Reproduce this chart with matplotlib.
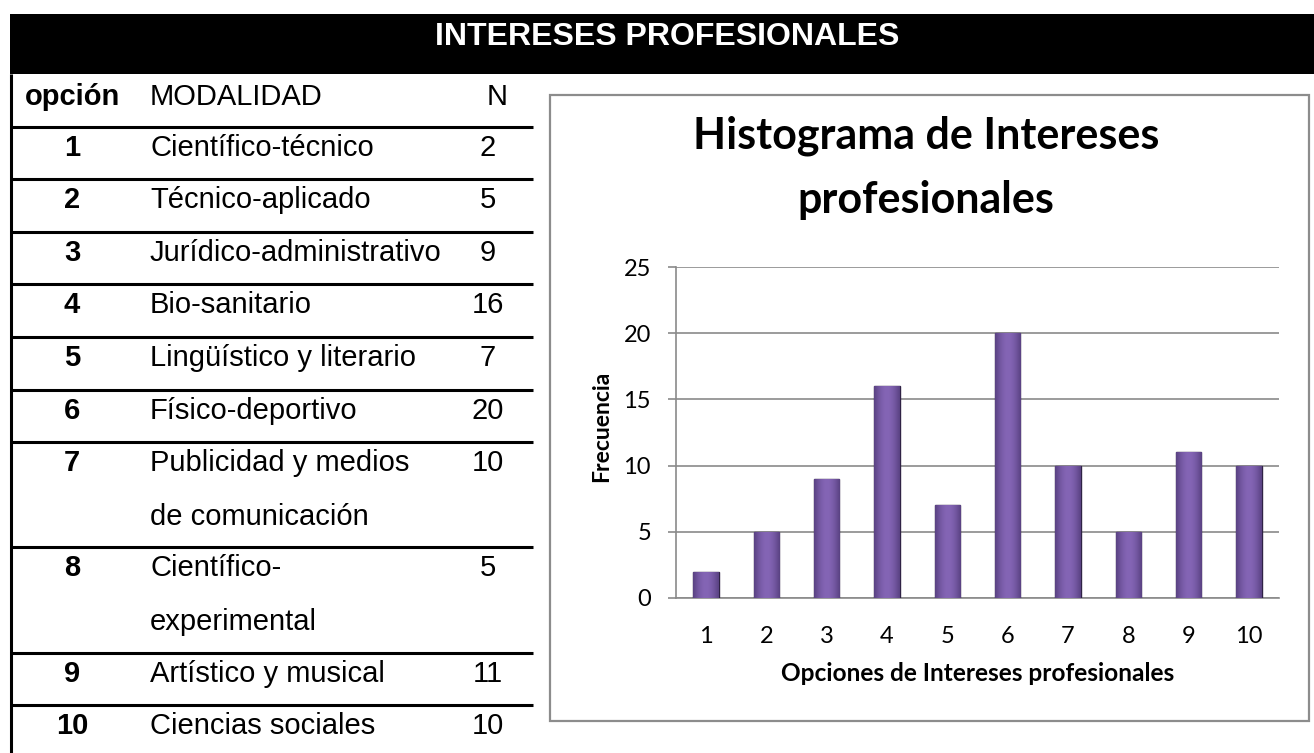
# Tabla de intereses profesionales + histograma (estilo Excel)
import matplotlib.pyplot as plt
import numpy as np
from matplotlib.patches import Rectangle
from matplotlib.colors import LinearSegmentedColormap

# datos
opciones = [1, 2, 3, 4, 5, 6, 7, 8, 9, 10]
modalidades = ['Científico-técnico', 'Técnico-aplicado', 'Jurídico-administrativo',
               'Bio-sanitario', 'Lingüístico y literario', 'Físico-deportivo',
               'Publicidad y medios\nde comunicación', 'Científico-\nexperimental',
               'Artístico y musical', 'Ciencias sociales']
frecuencias = [2, 5, 9, 16, 7, 20, 10, 5, 11, 10]
yticks = [0, 5, 10, 15, 20, 25]

titulo_tabla = 'INTERESES PROFESIONALES'
titulo_graf = 'Histograma de Intereses\nprofesionales'
etiqueta_x = 'Opciones de Intereses profesionales'
etiqueta_y = 'Frecuencia'

W, H = 1314, 753
fig = plt.figure(figsize=(W / 100, H / 100), dpi=100)

# fondo en coordenadas de pixel
bg = fig.add_axes([0, 0, 1, 1])
bg.set_xlim(0, W)
bg.set_ylim(H, 0)
bg.axis('off')

tabla_font = 'Liberation Sans'
graf_font = 'Lato'
fs_tabla = 21

# barra negra del titulo
bg.add_patch(Rectangle((10, 14), W - 10, 60, facecolor='black', edgecolor='none'))
bg.text(667, 45, titulo_tabla, color='white', fontsize=23, fontweight='bold',
        family=tabla_font, ha='center', va='baseline')

# tabla
lw = 2.2
x0, x1 = 11, 533
fila_h = 52.6
y = 74
bg.text(72, y + 31, 'opción', fontsize=fs_tabla, fontweight='bold', family=tabla_font,
        ha='center', va='baseline')
bg.text(150, y + 31, 'MODALIDAD', fontsize=fs_tabla, family=tabla_font, va='baseline')
bg.text(497, y + 31, 'N', fontsize=fs_tabla, family=tabla_font, ha='center', va='baseline')
y += fila_h
for op, mod, n in zip(opciones, modalidades, frecuencias):
    bg.plot([x0, x1], [y, y], color='black', lw=lw, solid_capstyle='butt')
    lineas = mod.split('\n')
    bg.text(72, y + 29, str(op), fontsize=fs_tabla, fontweight='bold', family=tabla_font,
            ha='center', va='baseline')
    for i, l in enumerate(lineas):
        bg.text(150, y + 29 + i * 54, l, fontsize=fs_tabla, family=tabla_font, va='baseline')
    bg.text(488, y + 29, str(n), fontsize=fs_tabla, family=tabla_font, ha='center', va='baseline')
    y += fila_h * len(lineas)
bg.plot([x0, x0], [74, H], color='black', lw=lw, solid_capstyle='butt')

# marco del grafico
bg.add_patch(Rectangle((550, 95), 759, 626, facecolor='white', edgecolor='#8c8c8c', lw=1.6))
bg.text(926, 168, titulo_graf, fontsize=31, fontweight='bold', family=graf_font,
        ha='center', va='center', linespacing=1.72)

# histograma
left, right, top, bottom = 676, 1279, 267, 598
ax = fig.add_axes([left / W, 1 - bottom / H, (right - left) / W, (bottom - top) / H])
ax.set_facecolor('none')
bars = ax.bar(opciones, frecuencias, width=0.42, color='#7458a0', edgecolor='#2f2245',
              linewidth=1.0, zorder=3)
# degradado horizontal dentro de cada barra
grad = np.linspace(0, 1, 64)
grad = np.sin(grad * np.pi)[None, :]
cmap = LinearSegmentedColormap.from_list('morado', ['#5a4283', '#8465b5'])
for b in bars:
    x, yb = b.get_x(), b.get_y()
    im = ax.imshow(grad, cmap=cmap, aspect='auto', zorder=3.5,
                   extent=[x, x + b.get_width(), yb, yb + b.get_height()])
    im.set_clip_path(b)
ax.set_xlim(0.5, 10.5)
ax.set_ylim(0, 25)
ax.set_xticks(opciones)
ax.set_yticks(yticks)
ax.grid(axis='y', color='#8a8a8a', lw=1.2, zorder=0)
for s in ['top', 'right']:
    ax.spines[s].set_visible(False)
for s in ['left', 'bottom']:
    ax.spines[s].set_color('#8a8a8a')
    ax.spines[s].set_linewidth(1.2)
ax.tick_params(axis='y', length=6, color='#8a8a8a', width=1.2, pad=12)
ax.tick_params(axis='x', length=0, pad=20)
for t in ax.get_xticklabels() + ax.get_yticklabels():
    t.set_family(graf_font)
    t.set_fontsize(17)
ax.set_xlabel(etiqueta_x, fontsize=17.6, fontweight='bold', family=graf_font, va='center')
ax.xaxis.set_label_coords(0.5, -0.227)
ax.set_ylabel(etiqueta_y, fontsize=16.5, fontweight='bold', family=graf_font, va='center')
ax.yaxis.set_label_coords(-0.124, 0.52)

plt.savefig('out.png', dpi=100)
